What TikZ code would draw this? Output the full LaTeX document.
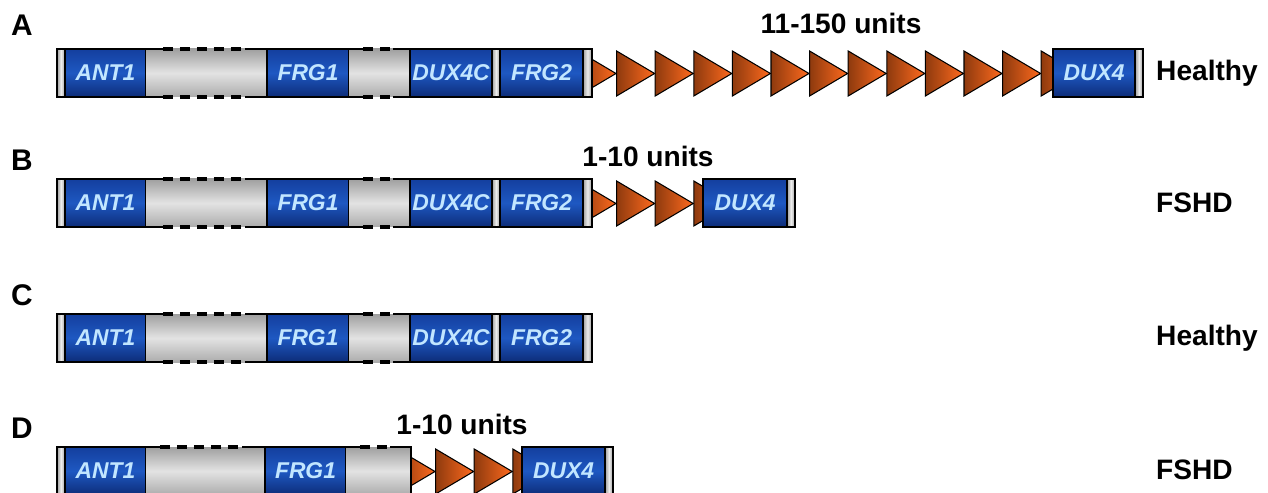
\documentclass[tikz,border=0pt]{standalone}
\usepackage{fontspec}
\setmainfont{Liberation Sans}
\usepackage{tikz}

\definecolor{genetop}{HTML}{143F9E}
\definecolor{genemid}{HTML}{1E58C2}
\definecolor{genebot}{HTML}{0D2C78}
\definecolor{genetxt}{HTML}{C2E6FF}
\definecolor{repdark}{HTML}{8E3A0E}
\definecolor{replight}{HTML}{FF6A1E}

\tikzset{
  edge/.style={black, line width=0.8pt},
  gene/.style={draw=black, line width=0.8pt, top color=genetop, bottom color=genebot, middle color=genemid},
  genetext/.style={text=genetxt, font=\fontsize{13}{15}\selectfont\bfseries\itshape},
  greyseg/.style={top color=gray!75, bottom color=gray!65, middle color=gray!22},
  capseg/.style={draw=black, line width=0.8pt, left color=gray!75, right color=gray!75, middle color=gray!15},
  repunit/.style={draw=black, line width=0.6pt, left color=repdark, right color=replight},
  gapline/.style={black, line width=2.2pt, dash pattern=on 0.2cm off 0.14cm},
  panel/.style={font=\fontsize{17}{19}\selectfont\bfseries},
  units/.style={font=\fontsize{16}{18}\selectfont\bfseries},
  tag/.style={font=\fontsize{16}{18}\selectfont\bfseries, anchor=west}
}

\begin{document}
\begin{tikzpicture}[x=0.02cm, y=-0.02cm]
  \clip (0,0) rectangle (1268,493);

  % repeat units (drawn first, the bars cover their hidden parts)
  \foreach \k in {0,...,12}
    \draw[repunit] ({578+38.6*\k},51) -- ++(38,22.5) -- ++(-38,22.5) -- cycle;
  \foreach \k in {0,...,3}
    \draw[repunit] ({578+38.6*\k},181) -- ++(38,22.5) -- ++(-38,22.5) -- cycle;
  \foreach \k in {0,...,3}
    \draw[repunit] ({397+38.6*\k},449) -- ++(38,22.5) -- ++(-38,22.5) -- cycle;

  % common part of rows A, B and C
  \foreach \t/\r in {49/A,179/B,314/C}{
    \draw[capseg] (57,\t) rectangle (65,\t+48);
    \draw[gene] (65,\t) rectangle (146,\t+48);
    \node[genetext] (ant\r) at (105.5,\t+24) {ANT1};
    % first gap
    \fill[greyseg] (146,\t) rectangle (267,\t+48);
    \draw[edge] (146,\t) -- (163,\t) (245,\t) -- (267,\t)
                (146,\t+48) -- (163,\t+48) (245,\t+48) -- (267,\t+48);
    \draw[gapline] (163,\t) -- (245,\t) (163,\t+48) -- (245,\t+48);
    \draw[gene] (267,\t) rectangle (349,\t+48);
    \node[genetext] (frgone\r) at (308,\t+24) {FRG1};
    % second gap
    \fill[greyseg] (349,\t) rectangle (410,\t+48);
    \draw[edge] (349,\t) -- (363,\t) (393,\t) -- (410,\t)
                (349,\t+48) -- (363,\t+48) (393,\t+48) -- (410,\t+48);
    \draw[gapline] (363,\t) -- (393,\t) (363,\t+48) -- (393,\t+48);
    \draw[gene] (410,\t) rectangle (492,\t+48);
    \node[genetext] (duxc\r) at (451,\t+24) {DUX4C};
    \draw[capseg] (492,\t) rectangle (500,\t+48);
    \draw[gene] (500,\t) rectangle (583,\t+48);
    \node[genetext] (frgtwo\r) at (541.5,\t+24) {FRG2};
    \draw[capseg] (583,\t) rectangle (592,\t+48);
  }

  % DUX4 at the end of the array
  \draw[gene] (1053,49) rectangle (1135,97);
  \node[genetext] (duxA) at (1094,73) {DUX4};
  \draw[capseg] (1135,49) rectangle (1143,97);
  \draw[gene] (703,179) rectangle (787,227);
  \node[genetext] (duxB) at (745,203) {DUX4};
  \draw[capseg] (787,179) rectangle (795,227);

  % row D, deletion of the proximal part
  \draw[capseg] (57,447) rectangle (65,495);
  \draw[gene] (65,447) rectangle (146,495);
  \node[genetext] (antD) at (105.5,471) {ANT1};
  \fill[greyseg] (146,447) rectangle (265,495);
  \draw[edge] (146,447) -- (160,447) (242,447) -- (265,447)
              (146,495) -- (160,495) (242,495) -- (265,495);
  \draw[gapline] (160,447) -- (242,447) (160,495) -- (242,495);
  \draw[gene] (265,447) rectangle (346,495);
  \node[genetext] (frgoneD) at (305.5,471) {FRG1};
  \fill[greyseg] (346,447) rectangle (411,495);
  \draw[edge] (346,447) -- (360,447) (390,447) -- (411,447) -- (411,495)
              (346,495) -- (360,495) (390,495) -- (411,495);
  \draw[gapline] (360,447) -- (390,447) (360,495) -- (390,495);
  \draw[gene] (522,447) rectangle (605,495);
  \node[genetext] (duxD) at (563.5,471) {DUX4};
  \draw[capseg] (605,447) rectangle (613,495);

  % panel letters
  \node[panel] (labA) at (22,25) {A};
  \node[panel] (labB) at (22,160) {B};
  \node[panel] (labC) at (22,295) {C};
  \node[panel] (labD) at (22,428) {D};

  % number of repeat units
  \node[units] (unitsA) at (841,23) {11-150 units};
  \node[units] (unitsB) at (648,156) {1-10 units};
  \node[units] (unitsD) at (462,424) {1-10 units};

  % phenotype
  \node[tag] (tagA) at (1150,73) {Healthy};
  \node[tag] (tagB) at (1150,203) {FSHD};
  \node[tag] (tagC) at (1150,338) {Healthy};
  \node[tag] (tagD) at (1150,470) {FSHD};
\end{tikzpicture}
\end{document}
